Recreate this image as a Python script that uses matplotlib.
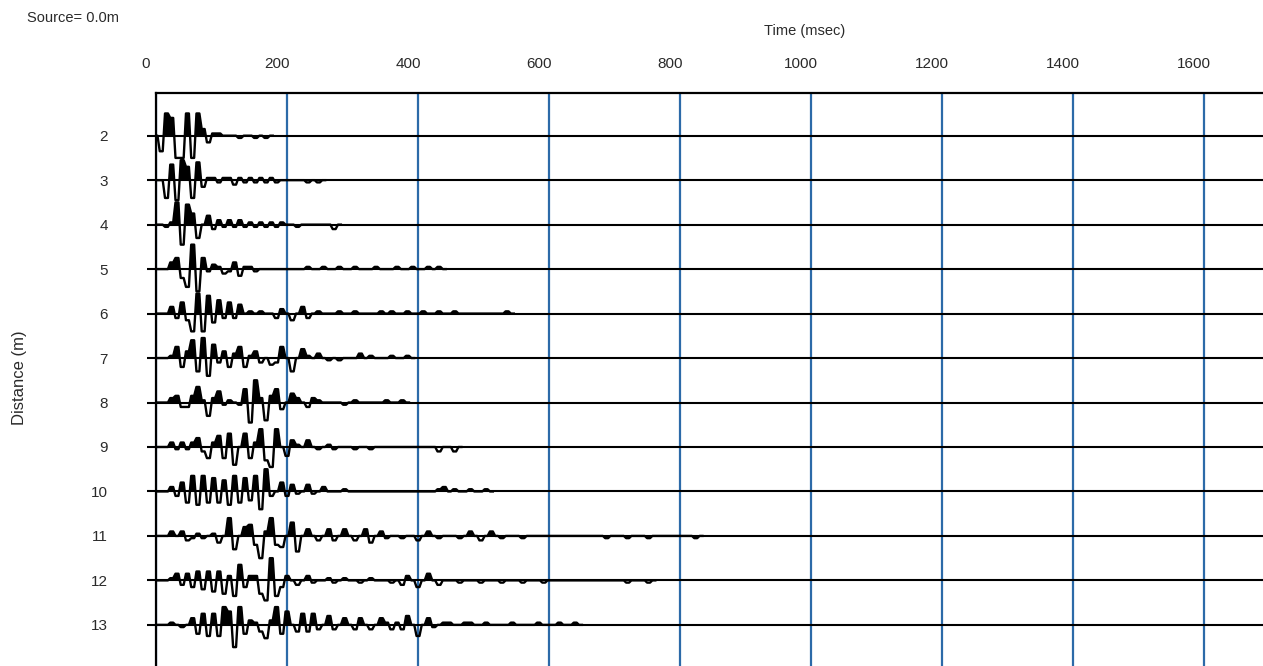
import numpy as np
import matplotlib
matplotlib.use('Agg')
import matplotlib.pyplot as plt
import matplotlib.transforms as mtransforms

SAMPLE_MS = 8      # trace sample interval (ms)
AMP_SCALE = 0.05   # trace offset (m) per amplitude count

distances = [2, 3, 4, 5, 6, 7, 8, 9, 10, 11, 12, 13]
time_ticks = [0, 200, 400, 600, 800, 1000, 1200, 1400, 1600]

# amplitude counts, one per sample, starting at t = 0
amps_2 = [0, -7, 10, 8, -10, -10, 10, -10, 10, 3, -3, 1, 1, 0, 0, 0, -1, 0, 0, -1, 0, -1]
amps_3 = [0, 0, -8, 7, -9, 9, 6, -8, 8, -3, 1, 1, -1, 1, 1, -2, 1, -1, 1, -1, 1, -1, 1, -1,
          0, 0, 0, 0, 0, -1, 0, -1]
amps_4 = [0, 0, -1, 1, 10, -9, 9, 5, -6, 0, 4, -2, 2, -1, 2, -1, 2, -1, 1, -1, 1, -1, 1, -1,
          1, 0, 0, -1, 0, 0, 0, 0, 0, 0, -2]
amps_5 = [0, 0, 0, 3, 5, -4, -8, 11, -10, 5, -1, 2, 1, -2, -1, 3, -3, 1, 1, -1,
          0, 0, 0, 0, 0, 0, 0, 0, 0, 1, 0, 0, 1, 0, 0, 1, 0, 0, 1, 0, 0, 0, 1, 0, 0, 0,
          1, 0, 0, 1, 0, 0, 1, 0, 1]
amps_6 = [0, 0, 0, 3, -2, 5, -3, -8, 9, -8, 8, -4, 6, -2, 5, -2, 4, 0, 1, 0, 1, 0, 0, -2,
          2, 0, -3, 0, 3, -2, 0, 1, 0, 0, 0, 1, 0, 0, 1, 0, 0, 0, 0, 1, 0, 1, 0, 0, 1, 0,
          0, 1, 0, 0, 1, 0, 0, 1, 0, 0, 0, 0, 0, 0, 0, 0, 0, 1]
amps_7 = [0, 0, 0, 1, 5, -4, 3, 8, -6, 9, -8, 6, -2, 3, -4, 2, 5, -4, 1, 3, -2, 0, -3, -2,
          5, 0, -6, 0, 4, 1, 0, 2, 0, -1, 0, -1, 0, 0, 0, 2, 0, 1, 0, 0, 0, 1, 0, 0, 1]
amps_8 = [0, 0, 0, 2, 3, -2, -2, 3, 7, 1, -6, 2, 5, -1, 1, 0, -1, 6, -9, 10, 2, -8, 3, 6,
          -3, 0, 4, 2, 0, -2, 2, 1, 0, 0, 0, 0, -1, 0, 1, 0, 0, 0, 0, 0, 1, 0, 0, 1]
amps_9 = [0, 0, 0, 2, -1, 2, -1, 2, 4, -2, -5, 2, 5, -5, 6, -8, 0, 6, -5, 2, 8, -6, -9, 8,
          0, -4, 3, 1, 0, 3, 0, -1, 0, 1, -1, 0, 0, 0, -1, 0, 0, -1] + [0] * 12 + [-2, 0, 0, -2]
amps_10 = [0, 0, 0, 2, -2, 4, -5, 7, -6, 7, -5, 6, -5, 5, -6, 7, -5, 6, -4, 7, -8, 10, -2, 0,
           4, -2, 3, -1, 0, 3, -1, 0, 2, 0, 0, 0, 1] + [0] * 17 + [1, 2, 0, 1, 0, 0, 1, 0, 0, 1]
amps_11 = [0, 0, 0, 2, 0, 2, -2, -1, 1, -1, 0, 1, -3, 0, 8, -6, 0, 4, 5, -4, -10, 2, 8, -4,
           -5, 0, 6, -7, 0, 3, 0, -2, 0, 3, -2, 0, 3, 0, -2, 0, 3, -3, 0, 2, -1, 0, 0, -1,
           0, 0, -2, 0, 2, 0, -1, 0, 0, 0, -1, 0, 2, 0, -2, 0, 2, 0, -1, 0, 0, 0, -1] \
    + [0] * 15 + [-1, 0, 0, 0, -1, 0, 0, 0, -1] + [0] * 8 + [-1]
amps_12 = [0, 0, 0, 1, 3, -2, 3, -3, 4, -4, 4, -5, 4, -6, 2, -7, 7, -3, 2, 2, -6, -9, 10, -7,
           -3, 2, 0, -2, 0, 2, -1, 0, 0, 1, -1, 0, 1, 0, 0, -1, 0, 1, 0, 0, 0, -1, 0, -2,
           2, 0, -3, 0, 3, 0, -2, 0, 0, 0, -1, 0, 0, 0, -1, 0, 0, 0, -1, 0, 0, 0, -1, 0,
           0, 0, -1] + [0] * 15 + [-1, 0, 0, 0, -1]
amps_13 = [0, 0, 0, 1, 0, -1, 0, 3, -4, 5, -5, 5, -5, 8, 6, -10, 8, -4, 2, 1, -3, -6, 2, 8,
           -4, 6, 0, -3, 5, -3, 5, -2, 0, 4, -2, 0, 3, 0, -2, 3, 0, -2, 0, 3, 1, -2, 1, -2,
           4, 0, -5, 0, 3, -1, 0, 1, 1, 0, 0, 1, 1, 0, 0, 1, 0, 0, 0, 0, 1, 0, 0, 0, 0, 1,
           0, 0, 0, 1, 0, 0, 1]

traces = [amps_2, amps_3, amps_4, amps_5, amps_6, amps_7,
          amps_8, amps_9, amps_10, amps_11, amps_12, amps_13]

GRID_BLUE = '#2c6aa8'
TEXT = '#2a2a2a'

plt.rcParams['font.family'] = ['Liberation Sans', 'DejaVu Sans']


def draw_trace(ax, offset, amps):
    # quiet sample after the last one so the wiggle settles on the baseline
    a = np.append(np.asarray(amps, dtype=float), 0.0) * AMP_SCALE
    # short flat top on every sample, steep ramp to the next one
    centers = np.arange(len(a)) * SAMPLE_MS
    q = 0.28 * SAMPLE_MS
    xs = np.column_stack([centers - q, centers + q]).ravel()
    ys = np.repeat(a, 2)
    # distance axis is inverted, so positive amplitude is drawn upward
    ax.fill_between(xs, offset, offset - ys, where=ys >= 0, interpolate=True,
                    color='black', linewidth=0, zorder=3)
    ax.plot(xs, offset - ys, color='black', linewidth=1.7, zorder=4)


def main():
    fig = plt.figure(figsize=(12.63, 6.66), dpi=100)
    ax = fig.add_axes([156 / 1263, 0.0, 1107 / 1263, 573 / 666])

    for d in distances:
        ax.axhline(d, color='black', linewidth=1.5, zorder=2)
    for d, amps in zip(distances, traces):
        draw_trace(ax, d, amps)

    ax.set_xlim(0, 1690)
    ax.set_ylim(13.925, 1.04)

    ax.xaxis.tick_top()
    ax.set_xticks(time_ticks)
    ax.set_yticks(distances)
    ax.grid(axis='x', color=GRID_BLUE, linewidth=1.6)
    ax.tick_params(axis='x', length=0, pad=16, labelsize=11, labelcolor=TEXT)
    ax.tick_params(axis='y', length=6.5, width=1.5, pad=28, labelsize=11,
                   labelcolor=TEXT, direction='out')

    shift = mtransforms.ScaledTranslation(-10 / 100, 0, fig.dpi_scale_trans)
    for lbl in ax.get_xticklabels():
        lbl.set_transform(lbl.get_transform() + shift)

    for side in ['right', 'bottom']:
        ax.spines[side].set_visible(False)
    for side in ['top', 'left']:
        ax.spines[side].set_linewidth(1.6)
        ax.spines[side].set_zorder(5)

    fig.text(27 / 1263, 1 - 18 / 666, 'Source= 0.0m', ha='left', va='center',
             fontsize=10.5, color=TEXT)
    fig.text(805 / 1263, 1 - 31 / 666, 'Time (msec)', ha='center', va='center',
             fontsize=10.5, color=TEXT)
    fig.text(20 / 1263, 1 - 378 / 666, 'Distance (m)', ha='center', va='center',
             rotation=90, fontsize=12, color=TEXT)

    fig.savefig('out.png', dpi=100)
    plt.close(fig=fig)


if __name__ == "__main__":
    main()
